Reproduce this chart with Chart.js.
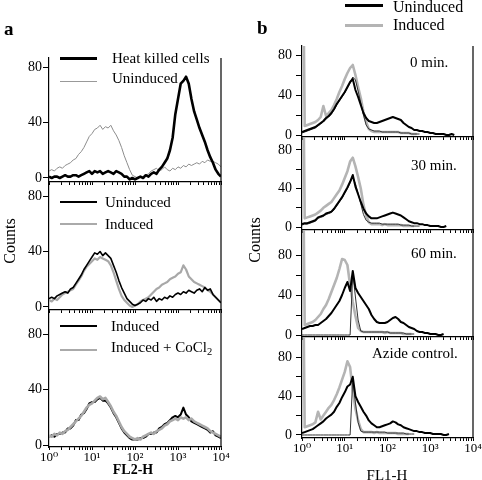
<!DOCTYPE html>
<html>
<head>
<meta charset="utf-8">
<script src="https://cdn.jsdelivr.net/npm/chart.js@4.4.0/dist/chart.umd.min.js"></script>
<style>
body { margin: 0; background: #fff; }
#wrap { position: relative; width: 482px; height: 480px; overflow: hidden; font-family: 'Liberation Serif', 'DejaVu Serif', serif; color: #000; }
#wrap canvas { position: absolute; left: 0; top: 0; }
.t { position: absolute; white-space: nowrap; line-height: 1; transform: translateY(-50%); }
.r { position: absolute; white-space: nowrap; line-height: 1; transform: translate(-50%, -50%) rotate(-90deg); }
.c { position: absolute; white-space: nowrap; line-height: 1; transform: translate(-50%, -50%); }
.ln { position: absolute; }
sub { font-size: 70%; vertical-align: -3px; line-height: 0; }
</style>
</head>
<body>
<div id="wrap">
  <canvas id="a1" width="482" height="480"></canvas>
  <canvas id="a2" width="482" height="480"></canvas>
  <canvas id="a3" width="482" height="480"></canvas>
  <canvas id="b1" width="482" height="480"></canvas>
  <canvas id="b2" width="482" height="480"></canvas>
  <canvas id="b3" width="482" height="480"></canvas>
  <canvas id="b4" width="482" height="480"></canvas>

  <div class="t" style="left:4px;top:28px;font-size:19px;font-weight:bold;">a</div>
  <div class="t" style="left:257px;top:27px;font-size:19px;font-weight:bold;">b</div>
  <div class="r" style="left:10px;top:241px;font-size:16px;">Counts</div>
  <div class="r" style="left:255px;top:240px;font-size:16px;">Counts</div>
  <div class="c" style="left:133px;top:470px;font-size:14px;font-weight:bold;">FL2-H</div>
  <div class="c" style="left:387px;top:475px;font-size:15px;">FL1-H</div>

  <div class="ln" style="left:60px;top:56.5px;width:37px;height:3px;background:#000;"></div>
  <div class="t" style="left:112px;top:58px;font-size:15px;">Heat killed cells</div>
  <div class="ln" style="left:60px;top:81px;width:37px;height:1px;background:#999;"></div>
  <div class="t" style="left:112px;top:78px;font-size:15px;">Uninduced</div>

  <div class="ln" style="left:60px;top:201px;width:37px;height:2px;background:#000;"></div>
  <div class="t" style="left:105px;top:202px;font-size:15px;">Uninduced</div>
  <div class="ln" style="left:60px;top:223px;width:37px;height:2px;background:#aaa;"></div>
  <div class="t" style="left:105px;top:224px;font-size:15px;">Induced</div>

  <div class="ln" style="left:60px;top:325px;width:37px;height:2px;background:#000;"></div>
  <div class="t" style="left:111px;top:326px;font-size:15px;">Induced</div>
  <div class="ln" style="left:60px;top:349px;width:37px;height:2px;background:#aaa;"></div>
  <div class="t" style="left:111px;top:347px;font-size:15px;">Induced + CoCl<sub>2</sub></div>

  <div class="ln" style="left:345px;top:4px;width:38px;height:3px;background:#000;"></div>
  <div class="t" style="left:393px;top:7px;font-size:16px;">Uninduced</div>
  <div class="ln" style="left:345px;top:24px;width:38px;height:3px;background:#b4b4b4;"></div>
  <div class="t" style="left:393px;top:25px;font-size:16px;">Induced</div>

  <div class="t" style="left:410px;top:62px;font-size:15px;">0 min.</div>
  <div class="t" style="left:411px;top:165px;font-size:15px;">30 min.</div>
  <div class="t" style="left:411px;top:253px;font-size:15px;">60 min.</div>
  <div class="t" style="left:372px;top:353px;font-size:15px;">Azide control.</div>
</div>

<script>
// channel positions (1024 channels over 4 log decades)
var channels = [0,16,32,48,64,80,96,112,128,144,160,176,192,208,224,240,256,272,288,304,320,336,352,368,384,400,416,432,448,464,480,496,512,528,544,560,576,592,608,624,640,656,672,688,704,720,736,752,768,784,800,816,832,848,864,880,896,912,928,944,960,976,992,1008,1024];
var xTickLabels = ['10\u2070', '10\u00b9', '10\u00b2', '10\u00b3', '10\u2074'];
var yTicksA = [0, 40, 80];
var yTicksB = [0, 10, 20, 30, 40, 50, 60, 70, 80];

// panel a - FL2-H
var heatKilled = [1,0,1,1,0,1,2,1,1,2, 2,1,2,3,4,5,3,5,4,5, 3,4,5,4,3,5,4,3,1,1, -1,0,-1,0,1,0,2,1,3,4, 3,6,8,11,14,20,29,46,57,68, 70,73,68,57,48,42,36,31,26,20, 15,11,6,3,1];
var uninducedA1 = [5,6,5,7,8,7,9,10,11,13, 14,17,19,22,26,30,32,35,36,38, 35,37,36,38,34,31,27,22,16,11, 6,2,1,0,1,0,2,3,5,6, 7,5,6,8,6,5,7,6,8,7, 9,8,10,9,10,11,10,12,11,13, 12,12,11,10,8];
var uninducedA2 = [6,7,6,8,9,10,11,10,13,14, 17,20,23,27,30,33,36,39,38,40, 37,39,37,35,30,25,19,14,10,6, 4,2,1,2,3,5,4,6,5,7, 4,6,5,7,6,8,7,9,10,9, 11,10,12,11,10,12,13,11,14,12, 13,9,7,5,3];
var inducedA2 = [5,4,6,5,7,9,10,11,12,13, 16,19,22,26,29,31,33,35,34,36, 35,34,33,30,25,19,13,8,5,3, 1,0,1,2,4,5,6,7,9,11, 13,14,16,17,18,20,21,22,24,25, 30,27,22,20,18,17,16,15,14,12, 11,9,7,5,3];
var inducedA3 = [6,7,6,8,8,9,9,12,12,14, 18,18,22,23,26,30,31,31,33,34, 32,32,30,27,23,20,16,12,9,7, 5,4,4,4,5,5,6,8,8,9, 9,12,13,15,16,18,20,21,20,22, 27,22,20,17,16,15,14,13,12,11, 9,10,7,6,5];
var cocl2A3 = [7,6,8,7,9,8,10,11,13,15, 17,19,21,24,27,29,30,32,34,35, 33,34,31,28,24,21,17,13,10,8, 6,5,4,5,4,6,7,8,9,8, 10,11,12,14,15,17,18,19,18,20, 19,20,18,19,17,16,15,14,13,12, 10,9,8,7,6];

// panel b - FL1-H (uninduced, induced, thin overlay)
var unind0 = [3,4,5,6,7,8,10,12,14,17, 19,22,26,31,35,39,43,48,53,56, 45,38,30,22,17,14,13,12,12,13, 14,15,16,17,18,17,16,15,12,10, 8,7,5,5,4,4,3,3,2,2, 1,1,1,1,0,0,1,0,null,null, null,null,null,null,null];
var ind0 = [300,9,10,11,12,13,15,18,29,19, 22,25,30,36,43,49,56,62,67,70, 60,48,37,23,13,6,4,3,3,3, 3,3,3,3,3,3,3,2,2,2, 2,1,1,1,null,null,null,null,null,null, null,null,null,null,null,null,null,null,null,null, null,null,null,null,null];
var thin0 = [2,3,4,5,6,7,9,11,13,16, 18,21,25,30,34,38,42,47,52,58, 55,44,32,20,10,6,5,4,4,4, 3,3,3,3,3,3,3,2,2,2, 2,1,1,1,1,null,null,null,null,null, null,null,null,null,null,null,null,null,null,null, null,null,null,null,null];

var unind30 = [3,4,4,5,6,7,10,11,12,14, 15,16,19,23,27,31,36,41,47,54, 42,34,26,19,14,11,9,9,9,10, 11,12,13,14,15,14,13,12,10,8, 6,5,4,4,3,3,2,2,1,1, 1,1,0,0,1,null,null,null,null,null, null,null,null,null,null];
var ind30 = [300,9,10,11,12,13,15,17,20,22, 24,26,30,34,38,44,51,58,68,72, 63,52,40,23,12,5,3,3,3,3, 2,3,2,2,2,2,2,2,1,1, 1,1,1,null,null,null,null,null,null,null, null,null,null,null,null,null,null,null,null,null, null,null,null,null,null];
var thin30 = [2,3,3,4,5,6,9,10,11,13, 14,15,18,22,26,30,35,40,46,52, 45,35,24,13,7,5,4,4,4,4, 3,3,3,3,3,3,3,2,2,2, 2,1,1,1,1,null,null,null,null,null, null,null,null,null,null,null,null,null,null,null, null,null,null,null,null];

var unind60 = [6,7,8,9,9,10,10,12,14,16, 19,22,26,30,34,40,47,53,44,64, 47,42,38,34,30,26,20,16,13,12, 12,12,13,15,17,18,16,13,12,10, 8,7,6,4,3,3,2,2,1,1, 1,0,0,1,null,null,null,null,null,null, null,null,null,null,null];
var ind60 = [300,10,11,12,13,15,18,21,26,30, 36,43,50,57,66,76,75,70,50,33, 19,7,4,3,3,3,3,3,3,3, 3,2,3,2,2,2,2,2,1,1, 1,1,null,null,null,null,null,null,null,null, null,null,null,null,null,null,null,null,null,null, null,null,null,null,null];
var thin60 = [0,0,0,0,0,0,0,0,0,0, 0,0,0,0,0,0,0,0,0,62, 38,15,4,3,3,3,3,3,3,3, 3,3,3,2,2,2,2,2,2,1, 1,1,1,null,null,null,null,null,null,null, null,null,null,null,null,null,null,null,null,null, null,null,null,null,null];

var unindAz = [2,3,4,5,6,8,10,12,14,17, 19,21,24,29,33,39,44,50,52,60, 40,34,29,24,20,15,12,10,8,8, 9,10,11,12,14,13,11,10,8,7, 6,5,4,4,3,3,2,2,2,1, 1,1,1,0,0,1,null,null,null,null, null,null,null,null,null];
var indAz = [300,8,9,10,11,13,24,16,20,24, 28,31,36,42,49,57,65,76,70,46, 27,15,6,3,3,3,3,2,3,2, 2,2,2,2,2,2,1,1,1,1, 1,null,null,null,null,null,null,null,null,null, null,null,null,null,null,null,null,null,null,null, null,null,null,null,null];
var thinAz = [0,0,0,0,0,0,0,0,0,0, 0,0,0,0,0,0,0,0,0,58, 33,13,4,3,3,3,3,3,3,3, 3,3,2,2,2,2,2,2,2,1, 1,1,1,null,null,null,null,null,null,null, null,null,null,null,null,null,null,null,null,null, null,null,null,null,null];

var FONT = "'Liberation Serif', 'DejaVu Serif', serif";

// log-decade tick positions in channel units
var xTicks = [];
for (var d = 0; d < 4; d++) {
    for (var k = 1; k < 10; k++) xTicks.push(256 * (d + Math.log10(k)));
}
xTicks.push(1024);

// right-hand frame line
var frameRight = {
    id: 'frameRight',
    afterDraw: function(chart) {
        var a = chart.chartArea, ctx = chart.ctx;
        ctx.save();
        ctx.strokeStyle = '#000';
        ctx.lineWidth = 1.2;
        ctx.beginPath();
        ctx.moveTo(a.right, a.top);
        ctx.lineTo(a.right, a.bottom);
        ctx.stroke();
        ctx.restore();
    }
};

function histChart(id, box, yMin, yMax, yTicks, series, showX, yFont) {
    var canvas = document.getElementById(id);
    return new Chart(canvas.getContext('2d'), {
        type: 'line',
        data: {
            datasets: series.map(function(s) {
                return {
                    data: channels.map(function(c, i) { return { x: c, y: s.values[i] }; }),
                    borderColor: s.color,
                    borderWidth: s.width,
                    borderJoinStyle: 'round',
                    pointRadius: 0,
                    tension: 0,
                    fill: false
                };
            })
        },
        options: {
            responsive: false,
            animation: false,
            devicePixelRatio: 1,
            layout: {
                padding: { left: box.left - 40, top: box.top, right: 482 - box.right, bottom: 480 - box.bottom - 20 }
            },
            plugins: { legend: { display: false }, tooltip: { enabled: false }, title: { display: false } },
            scales: {
                x: {
                    type: 'linear',
                    min: 0,
                    max: 1024,
                    afterBuildTicks: function(s) { s.ticks = xTicks.map(function(v) { return { value: v }; }); },
                    afterFit: function(s) { s.height = 20; s.paddingLeft = 0; s.paddingRight = 0; },
                    ticks: {
                        display: showX,
                        autoSkip: false,
                        maxRotation: 0,
                        padding: 0,
                        color: '#000',
                        font: { family: FONT, size: 13 },
                        callback: function(v) { return v % 256 === 0 ? xTickLabels[v / 256] : ''; }
                    },
                    grid: { drawOnChartArea: false, tickLength: 3, color: '#000' },
                    border: { display: true, color: '#000', width: 1.2 }
                },
                y: {
                    min: yMin,
                    max: yMax,
                    afterBuildTicks: function(s) { s.ticks = yTicks.map(function(v) { return { value: v }; }); },
                    afterFit: function(s) { s.width = 40; s.paddingTop = 0; s.paddingBottom = 0; },
                    ticks: {
                        padding: yFont.pad,
                        color: '#000',
                        font: { family: FONT, size: yFont.size },
                        callback: function(v) { return v % 40 === 0 ? String(v) : ''; }
                    },
                    grid: { drawOnChartArea: false, tickLength: yFont.tick, color: '#000' },
                    border: { display: true, color: '#000', width: 1.2 }
                }
            }
        },
        plugins: [frameRight]
    });
}

var fontA = { size: 14, pad: 1, tick: 6 };
var fontB = { size: 14, pad: 4, tick: 6 };
var boxL = 49, boxR = 221, bL = 302, bR = 473;

histChart('a1', { left: boxL, top: 58, right: boxR, bottom: 182 }, -2.9, 86.5, yTicksA, [
    { values: heatKilled, color: '#000', width: 2.6 },
    { values: uninducedA1, color: '#8c8c8c', width: 1 }
], false, fontA);

histChart('a2', { left: boxL, top: 182, right: boxR, bottom: 310 }, -2.2, 90.1, yTicksA, [
    { values: uninducedA2, color: '#000', width: 1.6 },
    { values: inducedA2, color: '#a8a8a8', width: 2.2 }
], false, fontA);

histChart('a3', { left: boxL, top: 310, right: boxR, bottom: 447 }, -1.4, 97.3, yTicksA, [
    { values: cocl2A3, color: '#a8a8a8', width: 2.6 },
    { values: inducedA3, color: '#000', width: 2 }
], true, fontA);

var bSeries = function(u, g, t) {
    return [
        { values: u, color: '#000', width: 2 },
        { values: t, color: '#333', width: 1 },
        { values: g, color: '#b4b4b4', width: 2.6 }
    ];
};

histChart('b1', { left: bL, top: 46, right: bR, bottom: 137 }, -2, 89, yTicksB, bSeries(unind0, ind0, thin0), false, fontB);
histChart('b2', { left: bL, top: 137, right: bR, bottom: 230 }, -3.1, 93.5, yTicksB, bSeries(unind30, ind30, thin30), false, fontB);
histChart('b3', { left: bL, top: 230, right: bR, bottom: 337 }, -2, 105, yTicksB, bSeries(unind60, ind60, thin60), false, fontB);
histChart('b4', { left: bL, top: 337, right: bR, bottom: 438 }, -3.1, 101, yTicksB, bSeries(unindAz, indAz, thinAz), true, fontB);
</script>
</body>
</html>
